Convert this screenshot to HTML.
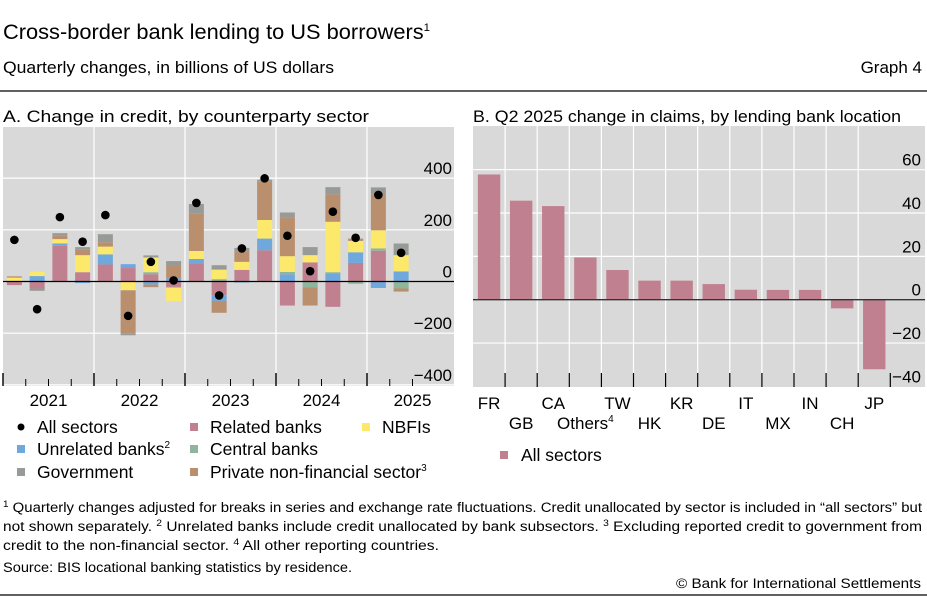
<!DOCTYPE html>
<html><head><meta charset="utf-8">
<style>
body{margin:0;background:#fff;}
svg{display:block;font-family:"Liberation Sans",sans-serif;}
</style></head>
<body>
<svg id="root" width="927" height="599" viewBox="0 0 927 599" xml:space="preserve">
<text x="3" y="39" font-size="21" fill="#000" textLength="427" lengthAdjust="spacingAndGlyphs">Cross-border bank lending to US borrowers<tspan font-size="11" dy="-8">1</tspan></text>
<text x="3" y="73" font-size="17" textLength="331" lengthAdjust="spacingAndGlyphs">Quarterly changes, in billions of US dollars</text>
<text x="922" y="73" font-size="17" text-anchor="end">Graph 4</text>
<line x1="0" y1="91" x2="927" y2="91" stroke="#000" stroke-width="1.2"/>
<text x="3" y="122" font-size="17" textLength="366" lengthAdjust="spacingAndGlyphs">A. Change in credit, by counterparty sector</text>
<text x="473" y="122" font-size="17" textLength="428" lengthAdjust="spacingAndGlyphs">B. Q2 2025 change in claims, by lending bank location</text>
<g id="pa"></g>
<g id="pb"></g>
<g font-size="13.5">
<text x="3" y="512" textLength="919" lengthAdjust="spacingAndGlyphs"><tspan font-size="9" dy="-5">1</tspan><tspan dy="5">  Quarterly changes adjusted for breaks in series and exchange rate fluctuations. Credit unallocated by sector is included in “all sectors” but</tspan></text>
<text x="3" y="531" textLength="919" lengthAdjust="spacingAndGlyphs">not shown separately.     <tspan font-size="9" dy="-5">2</tspan><tspan dy="5">  Unrelated banks include credit unallocated by bank subsectors.     </tspan><tspan font-size="9" dy="-5">3</tspan><tspan dy="5">  Excluding reported credit to government from</tspan></text>
<text x="3" y="550" textLength="436" lengthAdjust="spacingAndGlyphs">credit to the non-financial sector.     <tspan font-size="9" dy="-5">4</tspan><tspan dy="5">  All other reporting countries.</tspan></text>
<text x="3" y="572" textLength="349" lengthAdjust="spacingAndGlyphs">Source: BIS locational banking statistics by residence.</text>
<text x="676" y="588" textLength="245" lengthAdjust="spacingAndGlyphs">© Bank for International Settlements</text>
</g>
<line x1="0" y1="595" x2="927" y2="595" stroke="#000" stroke-width="1.2"/>
</svg>
<script>
// Panel A data (2021Q1..2025Q2)
const quarters = ["2021Q1","2021Q2","2021Q3","2021Q4","2022Q1","2022Q2","2022Q3","2022Q4","2023Q1","2023Q2","2023Q3","2023Q4","2024Q1","2024Q2","2024Q3","2024Q4","2025Q1","2025Q2"];
const relatedBanks   = [-14,-27,138,36,66,52,28,-21,70,-53,45,121,-93,74,-98,72,119,0];
const unrelatedBanks = [0,21,9,-6,39,15,-12,12,17,-22,-4,45,28,0,32,41,-25,39];
const centralBanks   = [0,0,0,0,0,0,8,-3,0,9,0,0,9,-22,4,-9,9,-27];
const nbfis          = [15,17,17,66,30,-34,57,-52,31,37,31,72,61,28,195,44,70,63];
const privateNonFin  = [5,0,15,23,17,-168,-10,50,146,-46,41,150,148,-71,106,9,139,-12];
const government     = [0,-9,8,8,31,-6,8,17,36,17,13,6,21,31,28,0,27,45];
const allSectors     = [161,-107,249,154,257,-133,76,4,304,-54,128,399,177,40,270,169,335,111];
const yearLabels = ["2021","2022","2023","2024","2025"];
const aTicks = [400,200,0,-200,-400];
// Panel B data
const countries = ["FR","GB","CA","Others","TW","HK","KR","DE","IT","MX","IN","CH","JP"];
const claims = [57.8,45.7,43.2,19.5,13.7,8.8,8.8,7.2,4.6,4.5,4.5,-4.0,-32.1];
const bTicks = [60,40,20,0,-20,-40];

const NS="http://www.w3.org/2000/svg";
function mk(tag,attrs,parent){const e=document.createElementNS(NS,tag);for(const k in attrs)e.setAttribute(k,attrs[k]);parent.appendChild(e);return e;}

// ---------- Panel A ----------
const pa=document.getElementById('pa');
const aL=3,aR=454,aT=127,aB=386,aX0=3,qW=22.75;
const ay=v=>281.5-v*0.2585;
const ax=i=>aX0+qW*(i+0.5);
const bg=mk('rect',{x:aL,y:aT,width:aR-aL,height:aB-aT,fill:'#d9d9d9'},pa);


aTicks.forEach(t=>{
  if(t!==0){const g=mk('line',{x1:aL,x2:aR,y1:ay(t),y2:ay(t),stroke:'#fff','stroke-width':1.2},pa);
  
  }
  const tx=mk('text',{x:452,y:ay(t)-4,'font-size':17,'text-anchor':'end'},pa);
  tx.textContent=(t<0?'\u2212'+(-t):t);
  
  
});
yearLabels.forEach((y,k)=>{
  const x=aX0+k*4*qW;
  if(k>0){const g=mk('line',{x1:x,x2:x,y1:aT,y2:aB,stroke:'#fff','stroke-width':1.2},pa);
  
  }
  const tx=mk('text',{x:x+2*qW,y:406,'font-size':17,'text-anchor':'middle'},pa);
  tx.textContent=y;
  
  
});
for(let i=0;i<=quarters.length;i++){
  const x=aX0+i*qW, major=i%4===0;
  const t=mk('line',{x1:x,x2:x,y1:major?373:379,y2:aB,stroke:'#000','stroke-width':major?1.4:1},pa);
  
  
}
const series=[["related-banks",relatedBanks,"#c0808f"],["unrelated-banks",unrelatedBanks,"#6ea8dc"],["central-banks",centralBanks,"#8fb59d"],["nbfis",nbfis,"#fce86a"],["private-non-financial",privateNonFin,"#b98f6d"],["government",government,"#979b97"]];
quarters.forEach((q,i)=>{
  let pos=0,neg=0;
  series.forEach(([nm,arr,col])=>{
    const v=arr[i]; if(!v)return;
    let y0,y1;
    if(v>0){y0=pos;y1=pos+v;pos=y1;}else{y0=neg;y1=neg+v;neg=y1;}
    const r=mk('rect',{x:ax(i)-7.5,width:15,y:Math.min(ay(y0),ay(y1)),height:Math.abs(ay(y0)-ay(y1)),fill:col},pa);
    
    
  });
});
const zl=mk('line',{x1:aL,x2:aR,y1:ay(0),y2:ay(0),stroke:'#000','stroke-width':1.3},pa);


allSectors.forEach((v,i)=>{
  const c=mk('circle',{cx:ax(i),cy:ay(v),r:4.3,fill:'#000'},pa);
  
  
});
// legend A
const legA=[[20,427,'dot','#000','All sectors',''],[193,427,'sq','#c0808f','Related banks',''],[365,427,'sq','#fce86a','NBFIs',''],
[20,449,'sq','#6ea8dc','Unrelated banks','2'],[193,449,'sq','#8fb59d','Central banks',''],
[20,472,'sq','#979b97','Government',''],[193,472,'sq','#b98f6d','Private non-financial sector','3']];
legA.forEach(([x,y,t,c,l,s])=>{
  const g=mk('g',{},pa);
  
  
  if(t==='dot')mk('circle',{cx:x+1,cy:y,r:3.5,fill:c},g);
  else mk('rect',{x:x-3,y:y-4,width:8,height:8,fill:c},g);
  const tx=mk('text',{x:x+17,y:y+6,'font-size':17.5},g);
  tx.textContent=l;
  if(s){const sp=mk('tspan',{'font-size':10,dy:-7},tx);sp.textContent=s;}
});

// ---------- Panel B ----------
const pb=document.getElementById('pb');
const bL=473,bR=925,bT=126,bB=387,cW=32.1;
const by=v=>299.7-v*2.167;
const bx=i=>bL+cW*(i+0.5);
const bbg=mk('rect',{x:bL,y:bT,width:bR-bL,height:bB-bT,fill:'#d9d9d9'},pb);


bTicks.forEach(t=>{
  if(t!==0&&t!==-40){const g=mk('line',{x1:bL,x2:bR,y1:by(t),y2:by(t),stroke:'#fff','stroke-width':1.2},pb);
  
  }
  const tx=mk('text',{x:921,y:by(t)-4,'font-size':17,'text-anchor':'end'},pb);
  tx.textContent=(t<0?'\u2212'+(-t):t);
  
  
});
for(let i=1;i<=countries.length;i++){
  const x=bL+i*cW;
  if(i<countries.length){const g=mk('line',{x1:x,x2:x,y1:bT,y2:bB,stroke:'#fff','stroke-width':1.2},pb);
  
  }
  const t=mk('line',{x1:x,x2:x,y1:373,y2:bB,stroke:'#000','stroke-width':1.2},pb);
  
  
}
countries.forEach((c,i)=>{
  const v=claims[i];
  const r=mk('rect',{x:bx(i)-11.2,width:22.4,y:Math.min(by(0),by(v)),height:Math.abs(by(v)-by(0)),fill:'#c0808f'},pb);
  
  
  const tx=mk('text',{x:bx(i),y:i%2===0?409:429,'font-size':17,'text-anchor':'middle'},pb);
  tx.textContent=c;
  if(c==='Others'){const sp=mk('tspan',{'font-size':10,dy:-7},tx);sp.textContent='4';}
  
  
});
const zb=mk('line',{x1:bL,x2:bR,y1:by(0),y2:by(0),stroke:'#333','stroke-width':1.3},pb);


const lb=mk('g',{},pb);


mk('rect',{x:500,y:451,width:8,height:8,fill:'#c0808f'},lb);
const lt=mk('text',{x:521,y:461,'font-size':17.5},lb);
lt.textContent='All sectors';
</script>
</body></html>
